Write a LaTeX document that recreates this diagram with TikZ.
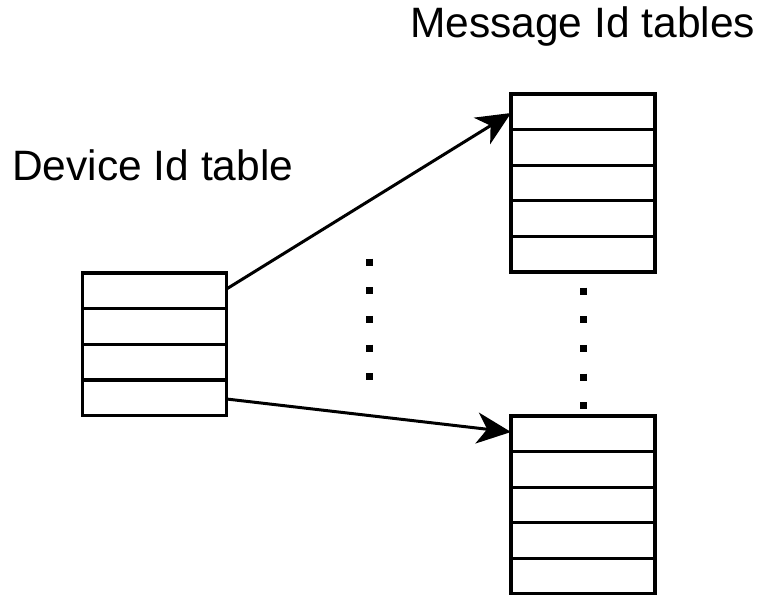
\documentclass[tikz,border=0pt]{standalone}
\usepackage{fontspec}
\setmainfont{Liberation Sans}
\usetikzlibrary{arrows.meta,calc}
\begin{document}
\begin{tikzpicture}[x=1bp,y=-1bp,
  tablebox/.style={draw,line width=3.3bp,inner sep=0pt,outer sep=0pt,minimum width=144bp,minimum height=#1},
  rowline/.style={line width=3.3bp},
  link/.style={line width=3bp,-{Stealth[length=34bp,width=31bp,inset=10bp]}},
  caption/.style={anchor=base west,inner sep=0pt,font=\fontsize{42.5bp}{50bp}\selectfont},
  ellipsis/.style={line width=7bp,dash pattern=on 7bp off 21.7bp}]
\useasboundingbox (0,0) rectangle (757,595);

% captions
\node[caption] (devlabel) at (12,181) {Device Id table};
\node[caption] (msglabel) at (410,38) {Message Id tables};

% tables
\node[tablebox=142.5bp] (dev) at (154.5,344.25) {};
\node[tablebox=178bp] (msgA) at (583,183) {};
\node[tablebox=178bp] (msgB) at (583,505) {};

% row separators
\foreach \i in {1,...,3}
  \draw[rowline] ($(dev.north west)!\i/4!(dev.south west)$) -- ($(dev.north east)!\i/4!(dev.south east)$);
\foreach \t in {msgA,msgB}
  \foreach \i in {1,...,4}
    \draw[rowline] ($(\t.north west)!\i/5!(\t.south west)$) -- ($(\t.north east)!\i/5!(\t.south east)$);

% links from the device table to the message tables
\draw[link] ($(dev.north east)+(0,16)$) -- ($(msgA.north west)+(0,19)$);
\draw[link] ($(dev.south east)+(0,-16.5)$) -- ($(msgB.north west)+(0,16)$);

% vertical ellipses
\coordinate (e1s) at (369,258.5);
\coordinate (e1e) at (369,381);
\coordinate (e2s) at (583,287.5);
\coordinate (e2e) at (583,410);
\draw[ellipsis] (e1s) -- (e1e);
\draw[ellipsis] (e2s) -- (e2e);
\end{tikzpicture}
\end{document}
